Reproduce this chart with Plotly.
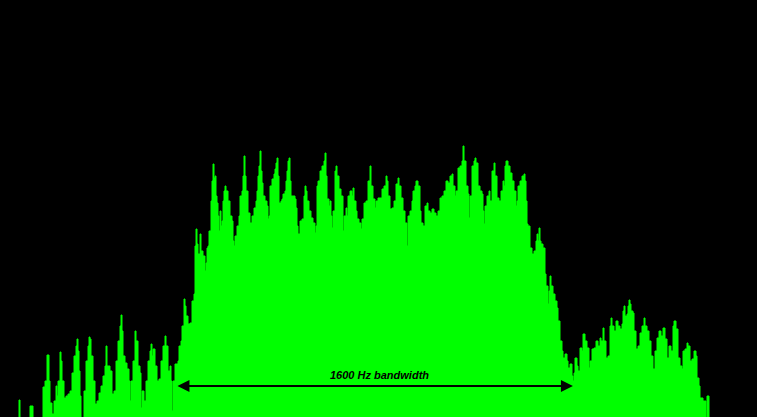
import numpy as np
import plotly.graph_objects as go

# Spectrum bins (one bin ~ 4.03 Hz) and relative level
bins = [0, 18, 19, 20, 29, 30, 32, 33, 42, 43, 45, 47, 48, 49, 50, 52, 54, 56, 57, 58, 60, 61, 62, 64, 66, 68, 70, 72, 74, 76, 77, 78, 79, 80, 81, 83, 84, 86, 88, 89, 90, 91, 93, 95, 97, 99, 101, 103, 105, 106, 107, 109, 110, 112, 114, 116, 118, 120, 121, 122, 123, 125, 127, 129, 130, 131, 133, 135, 136, 138, 140, 141, 142, 144, 146, 148, 150, 151, 152, 153, 155, 157, 159, 161, 163, 165, 166, 168, 170, 171, 172, 173, 175, 177, 178, 179, 181, 182, 184, 185, 186, 188, 190, 192, 194, 195, 196, 197, 198, 200, 201, 203, 205, 206, 207, 208, 209, 211, 212, 213, 214, 215, 216, 217, 218, 219, 220, 221, 222, 223, 224, 225, 226, 228, 230, 232, 233, 234, 235, 237, 239, 240, 242, 243, 244, 245, 246, 248, 250, 252, 254, 256, 257, 258, 259, 260, 261, 262, 263, 265, 267, 268, 269, 270, 272, 274, 275, 276, 277, 278, 279, 281, 282, 283, 285, 286, 287, 288, 289, 290, 291, 293, 295, 296, 297, 298, 300, 302, 304, 305, 306, 307, 309, 311, 313, 315, 316, 317, 318, 320, 322, 324, 325, 326, 327, 329, 330, 331, 332, 333, 335, 336, 337, 339, 341, 343, 344, 346, 347, 348, 350, 352, 353, 354, 356, 357, 359, 361, 362, 364, 366, 368, 370, 371, 373, 375, 376, 378, 380, 382, 384, 386, 387, 388, 390, 392, 394, 396, 398, 399, 401, 403, 405, 407, 408, 410, 412, 413, 415, 416, 418, 420, 421, 423, 425, 427, 428, 430, 432, 434, 436, 438, 440, 442, 444, 446, 448, 450, 452, 453, 455, 456, 458, 460, 462, 463, 464, 466, 468, 469, 470, 472, 474, 475, 476, 478, 480, 482, 483, 484, 485, 487, 489, 490, 492, 494, 495, 497, 499, 501, 503, 504, 505, 506, 508, 510, 512, 514, 516, 517, 518, 520, 522, 524, 525, 526, 527, 528, 530, 532, 534, 536, 537, 538, 539, 540, 541, 543, 545, 546, 548, 549, 550, 551, 553, 555, 557, 558, 560, 562, 563, 565, 567, 568, 570, 572, 573, 574, 575, 577, 578, 580, 582, 583, 585, 587, 589, 590, 592, 594, 596, 598, 600, 601, 603, 604, 606, 608, 610, 611, 612, 614, 616, 618, 620, 622, 623, 624, 625, 627, 628, 629, 630, 631, 633, 634, 636, 638, 640, 642, 644, 645, 647, 649, 651, 653, 655, 657, 659, 661, 663, 665, 667, 669, 671, 673, 674, 676, 678, 680, 682, 683, 685, 687, 688, 690, 692, 694, 696, 697, 699, 700, 702, 703, 705, 706, 707, 708, 709, 757]

level = [0, 0, 18, 0, 0, 12, 12, 0, 0, 31, 37, 63, 63, 37, 15, 4, 17, 32, 22, 37, 66, 57, 37, 20, 22, 24, 27, 45, 62, 72, 79, 67, 47, 22, 0, 0, 27, 57, 72, 81, 79, 62, 37, 14, 17, 25, 32, 42, 52, 72, 52, 52, 47, 24, 27, 57, 77, 92, 103, 87, 62, 55, 49, 37, 17, 37, 57, 87, 77, 52, 45, 10, 27, 17, 37, 57, 67, 74, 62, 69, 52, 37, 39, 57, 72, 82, 72, 47, 52, 37, 7, 37, 54, 54, 57, 72, 77, 92, 119, 112, 102, 94, 95, 117, 124, 172, 189, 174, 164, 184, 167, 162, 147, 155, 170, 172, 187, 217, 237, 254, 240, 242, 222, 215, 202, 187, 207, 192, 197, 217, 227, 232, 227, 217, 202, 197, 177, 172, 182, 192, 202, 222, 227, 242, 262, 242, 227, 205, 195, 202, 210, 217, 227, 242, 252, 267, 247, 235, 222, 217, 212, 199, 202, 232, 239, 244, 249, 255, 260, 242, 215, 217, 219, 224, 227, 237, 247, 257, 260, 237, 222, 222, 219, 210, 192, 184, 197, 199, 222, 232, 227, 217, 207, 200, 195, 185, 192, 232, 237, 247, 252, 257, 265, 242, 219, 212, 217, 202, 190, 207, 247, 252, 242, 229, 222, 187, 202, 210, 202, 222, 227, 222, 230, 217, 207, 199, 195, 189, 199, 215, 217, 237, 252, 232, 219, 210, 217, 220, 220, 229, 232, 242, 237, 222, 209, 210, 217, 234, 240, 232, 220, 207, 195, 172, 202, 207, 217, 227, 232, 237, 232, 207, 195, 192, 212, 215, 207, 205, 209, 205, 202, 207, 220, 222, 227, 237, 235, 242, 244, 232, 222, 227, 250, 252, 257, 272, 257, 232, 224, 200, 222, 252, 257, 260, 255, 232, 227, 224, 207, 194, 212, 222, 227, 217, 247, 255, 242, 220, 217, 227, 237, 232, 252, 257, 252, 245, 237, 227, 212, 217, 232, 237, 242, 244, 237, 217, 194, 192, 170, 164, 167, 177, 184, 177, 190, 177, 174, 170, 144, 132, 114, 127, 142, 132, 124, 117, 110, 97, 77, 67, 60, 64, 57, 50, 54, 42, 37, 45, 60, 52, 47, 70, 67, 84, 77, 70, 50, 57, 69, 70, 77, 72, 80, 77, 90, 77, 60, 62, 92, 100, 92, 87, 97, 92, 89, 94, 107, 112, 102, 104, 112, 118, 114, 107, 105, 87, 69, 72, 85, 92, 100, 92, 87, 77, 62, 49, 67, 80, 87, 82, 90, 79, 60, 72, 67, 92, 97, 89, 60, 52, 49, 67, 69, 75, 72, 57, 59, 67, 62, 40, 32, 20, 20, 17, 17, 0, 22, 22, 0, 0]

BIN_HZ = 1600 / 397
band_lo_hz = 709
band_hi_hz = 2309
band_label = "1600 Hz bandwidth"
label_hz = 1531
arrow_level = 32
label_level = 43
y_min, y_max = 1, 418
x_max_bins = 757

freq_hz = np.array(bins) * BIN_HZ

fig = go.Figure()
fig.add_trace(go.Scatter(
    x=freq_hz, y=level, mode="lines", fill="tozeroy",
    line=dict(color="#00ff00", width=1, shape="hv"), fillcolor="#00ff00",
    hoverinfo="skip", showlegend=False,
))

fig.add_annotation(
    x=band_hi_hz, y=arrow_level, ax=band_lo_hz, ay=arrow_level,
    xref="x", yref="y", axref="x", ayref="y",
    text="", showarrow=True, arrowhead=2, arrowside="end+start",
    arrowsize=1.2, arrowwidth=2, arrowcolor="#000000", standoff=0, startstandoff=0,
)
fig.add_annotation(
    x=label_hz, y=label_level, xref="x", yref="y",
    text="<b><i>" + band_label + "</i></b>", showarrow=False,
    font=dict(family="Liberation Sans, Arial, sans-serif", size=11, color="#000000"),
)

fig.update_layout(
    width=757, height=417,
    margin=dict(l=0, r=0, t=0, b=0),
    paper_bgcolor="#000000", plot_bgcolor="#000000",
    xaxis=dict(range=[0, x_max_bins * BIN_HZ], visible=False, fixedrange=True),
    yaxis=dict(range=[y_min, y_max], visible=False, fixedrange=True),
)

fig.write_html(
    "out.html",
    config={"displayModeBar": False},
    post_script="document.body.style.margin='0';document.body.style.background='#000';",
)
